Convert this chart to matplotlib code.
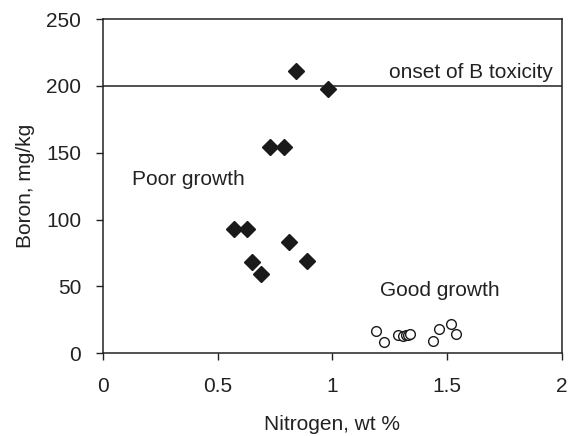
import matplotlib
matplotlib.use("Agg")
import matplotlib.pyplot as plt

plt.rcParams["font.family"] = ["Liberation Sans", "DejaVu Sans"]

# poor growth samples (filled diamonds)
poor_n = [0.84, 0.98, 0.73, 0.79, 0.57, 0.63, 0.81, 0.65, 0.89, 0.69]
poor_b = [211, 198, 154, 154, 93, 93, 83, 68, 69, 59]

# good growth samples (open circles)
good_n = [1.19, 1.225, 1.285, 1.31, 1.32, 1.33, 1.34, 1.44, 1.465, 1.515, 1.54]
good_b = [16.5, 8, 13.5, 12.5, 13.5, 13.5, 14, 9, 18, 22, 14.5]

toxicity_level = 200

fig = plt.figure(figsize=(5.78, 4.36), dpi=100)
fig.subplots_adjust(left=0.178, right=0.972, bottom=0.19, top=0.956)
ax = fig.add_subplot(111)

ax.axhline(toxicity_level, color="#222222", lw=1.1, zorder=1)
ax.plot(poor_n, poor_b, "D", color="#1a1a1a", ms=8.5, zorder=3)
ax.plot(good_n, good_b, "o", mfc="white", mec="#1a1a1a", mew=1.0, ms=7, zorder=3)

ax.text(1.96, 203, "onset of B toxicity", ha="right", va="bottom", fontsize=15, color="#222222")
ax.text(0.126, 126, "Poor growth", ha="left", va="baseline", fontsize=15, color="#222222")
ax.text(1.208, 43, "Good growth", ha="left", va="baseline", fontsize=15, color="#222222")

ax.set_xlim(0, 2)
ax.set_ylim(0, 250)
ax.set_xticks([0, 0.5, 1, 1.5, 2])
ax.set_xticklabels(["0", "0.5", "1", "1.5", "2"])
ax.set_yticks([0, 50, 100, 150, 200, 250])
ax.tick_params(direction="out", length=5, width=1, labelsize=15, colors="#222222")
ax.tick_params(axis="x", pad=12)
ax.tick_params(axis="y", pad=10.5)
for s in ax.spines.values():
    s.set_color("#222222")
    s.set_linewidth(1.1)

ax.set_xlabel("Nitrogen, wt %", fontsize=15, color="#222222", labelpad=14)
ax.set_ylabel("Boron, mg/kg", fontsize=15, color="#222222", labelpad=8)

fig.savefig("out.png", dpi=100)
